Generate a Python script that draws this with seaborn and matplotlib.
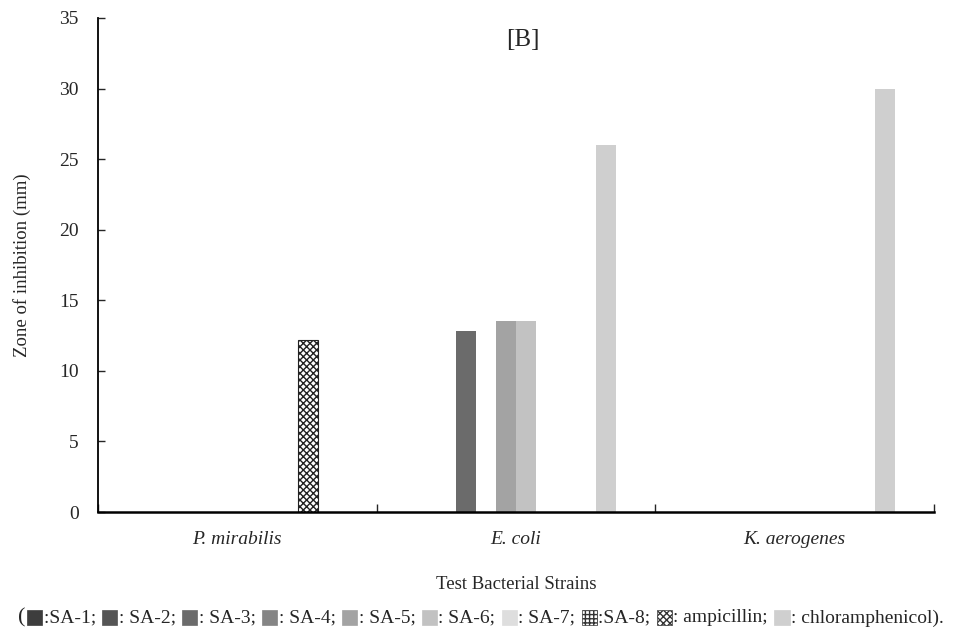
import pandas as pd
import seaborn as sns
import matplotlib.pyplot as plt
from matplotlib.patches import Rectangle
from matplotlib.offsetbox import TextArea, DrawingArea, HPacker, AnchoredOffsetbox

# Data -------------------------------------------------------------------------

strains = ["P. mirabilis", "E. coli", "K. aerogenes"]
agents = ["SA-1", "SA-2", "SA-3", "SA-4", "SA-5", "SA-6", "SA-7", "SA-8",
          "ampicillin", "chloramphenicol"]

sa1 = [0, 0, 0]
sa2 = [0, 0, 0]
sa3 = [0, 12.8, 0]
sa4 = [0, 0, 0]
sa5 = [0, 13.5, 0]
sa6 = [0, 13.5, 0]
sa7 = [0, 0, 0]
sa8 = [0, 0, 0]
ampicillin = [12.2, 0, 0]
chloramphenicol = [0, 26, 30]

legend_texts = [":SA-1; ", ": SA-2; ", ": SA-3; ", ": SA-4; ", ": SA-5; ",
                ": SA-6; ", ": SA-7; ", ":SA-8; ", ": ampicillin; ",
                ": chloramphenicol)."]

colors = ["#3d3d3d", "#555555", "#6b6b6b", "#858585", "#a3a3a3",
          "#c2c2c2", "#dedede", "#ffffff", "#ffffff", "#cfcfcf"]
hatches = [None, None, None, None, None, None, None, "++++", "xxxxx", None]

series = [sa1, sa2, sa3, sa4, sa5, sa6, sa7, sa8, ampicillin, chloramphenicol]
rows = []
for agent, vals in zip(agents, series):
    for strain, v in zip(strains, vals):
        rows.append({"strain": strain, "agent": agent, "zone": v})
df = pd.DataFrame(rows)

# Plot -------------------------------------------------------------------------

sns.set_style("ticks")
plt.rcParams["font.family"] = ["Liberation Serif", "DejaVu Serif"]
plt.rcParams["hatch.linewidth"] = 1.0

fig = plt.figure(figsize = (9.56, 6.35), dpi = 100)
ax = fig.add_axes([0.1025, 0.1937, 0.8745, 0.778])

sns.barplot(data = df, x = "strain", y = "zone", hue = "agent",
            palette = colors, saturation = 1, width = 0.72,
            legend = False, ax = ax)

for cont, hatch in zip(ax.containers, hatches):
    for bar in cont:
        if bar.get_height() == 0:
            bar.set_linewidth(0)
            continue
        if hatch:
            bar.set_hatch(hatch)
            bar.set_edgecolor("#222222")
            bar.set_linewidth(0.8)
        else:
            bar.set_linewidth(0)

ax.set_xlim(-0.5, 2.5)
ax.set_ylim(0, 35)
ax.set_yticks(range(0, 36, 5))
sns.despine(ax = ax)
for s in ["left", "bottom"]:
    ax.spines[s].set_color("black")
    ax.spines[s].set_linewidth(1.3)
ax.spines["bottom"].set_linewidth(1.8)

ax.tick_params(axis = "y", direction = "in", length = 5, width = 1, labelsize = 14, pad = 14)
ax.tick_params(axis = "x", which = "major", length = 0, labelsize = 14, pad = 14)
ax.set_xticks([-0.5, 0.5, 1.5, 2.5], minor = True)
ax.tick_params(axis = "x", which = "minor", direction = "in", length = 6, width = 1)
for lbl in ax.get_xticklabels():
    lbl.set_fontstyle("italic")

ax.set_xlabel("Test Bacterial Strains", fontsize = 13.5, labelpad = 20)
ax.set_ylabel("Zone of inhibition (mm)", fontsize = 13.5, labelpad = 20)
ax.text(0.508, 0.955, "[B]", transform = ax.transAxes, ha = "center", va = "center", fontsize = 18)

# Inline legend ----------------------------------------------------------------

parts = [TextArea("(", textprops = dict(fontsize = 16))]
for col, hatch, txt in zip(colors, hatches, legend_texts):
    da = DrawingArea(11, 11, 0, 0)
    da.add_artist(Rectangle((0, 0), 11, 11, facecolor = col,
                            edgecolor = "#333333" if hatch else col,
                            hatch = hatch, linewidth = 0.5))
    parts.append(da)
    parts.append(TextArea(txt, textprops = dict(fontsize = 14)))
box = HPacker(children = parts, align = "center", pad = 0, sep = 1)
anch = AnchoredOffsetbox(loc = "center", child = box, frameon = False,
                         bbox_to_anchor = (0.503, 0.027),
                         bbox_transform = fig.transFigure, borderpad = 0)
fig.add_artist(anch)

fig.savefig("out.png", dpi = 100)
